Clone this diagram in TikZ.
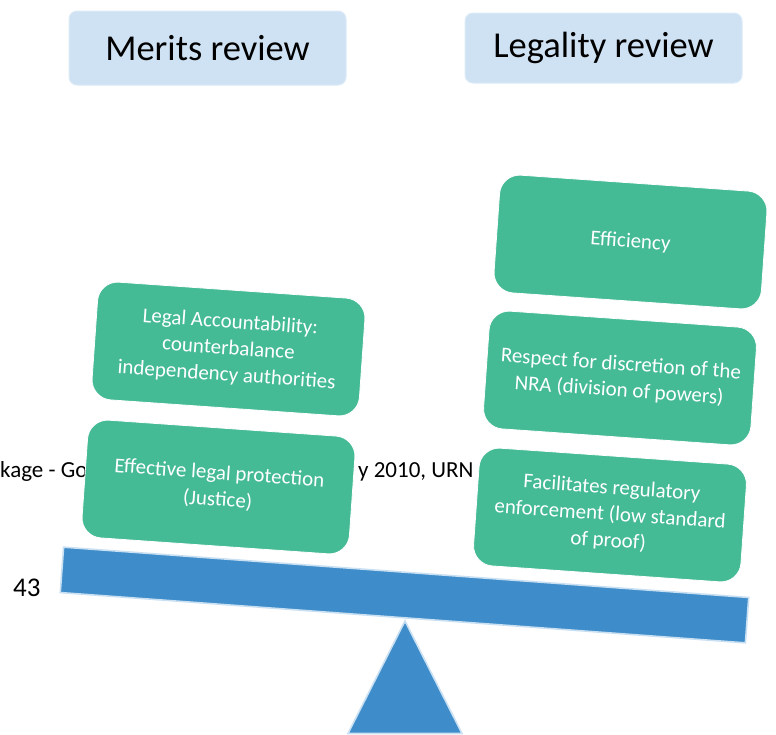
\documentclass[tikz,border=0pt]{standalone}
\usepackage{fontspec}
\setmainfont{Carlito}
\definecolor{hdrfill}{HTML}{CFE2F3}
\definecolor{hdrline}{HTML}{DCEAF7}
\definecolor{leaf}{HTML}{44BA95}
\definecolor{beamblue}{HTML}{3E8DCA}
\definecolor{beamedge}{HTML}{C9DFF2}

\begin{document}
\begin{tikzpicture}[x=1pt,y=-1pt,
  header/.style={draw=hdrline, line width=1pt, fill=hdrfill, rounded corners=8pt,
    inner sep=0pt, text=black, font=\fontsize{36.5}{44}\selectfont},
  weight/.style={draw=white, line width=0.8pt, fill=leaf, rounded corners=20pt,
    minimum width=268pt, minimum height=118pt, inner sep=0pt, rotate=-4,
    text=white, align=center, font=\fontsize{21}{26.5}\selectfont},
  plank/.style={draw=beamedge, line width=1.6pt, fill=beamblue,
    minimum width=687pt, minimum height=45.5pt, inner sep=0pt, rotate=-4.2},
  pivot/.style={draw=beamedge, line width=1.6pt, fill=beamblue, line join=miter},
  stray/.style={inner sep=0pt, anchor=base west, text=black}
]
\clip (0,0) rectangle (776,734);

% column headings
\node[header, minimum width=277pt, minimum height=74pt] (merits) at (207.5,48) {Merits review};
\node[header, minimum width=277pt, minimum height=70pt] (legality) at (603.5,48) {Legality review};

% text lying behind the weights
\node[stray, font=\fontsize{23}{27}\selectfont] (citeL) at (0,477) {kage - Go};
\node[stray, font=\fontsize{23}{27}\selectfont] (citeR) at (358,477) {y 2010, URN};
\node[stray, font=\fontsize{27}{32}\selectfont] (pagenum) at (13,596) {43};

% left pan
\node[weight] (account) at (228.5,349) {Legal Accountability:\\counterbalance\\independency authorities};
\node[weight] (protect) at (218.5,487) {Effective legal protection\\(Justice)};

% right pan
\node[weight] (effic) at (630.5,242) {Efficiency};
\node[weight] (discr) at (620,378) {Respect for discretion of the\\NRA (division of powers)};
\node[weight] (enforce) at (610,515) {Facilitates regulatory\\enforcement (low standard\\of proof)};

% beam and fulcrum
\node[plank] (beam) at (404.5,595) {};
\coordinate (apex) at (405,621);
\coordinate (footL) at (348,733.5);
\coordinate (footR) at (462,733.5);
\draw[pivot] (apex) -- (footR) -- (footL) -- cycle;
\end{tikzpicture}
\end{document}
